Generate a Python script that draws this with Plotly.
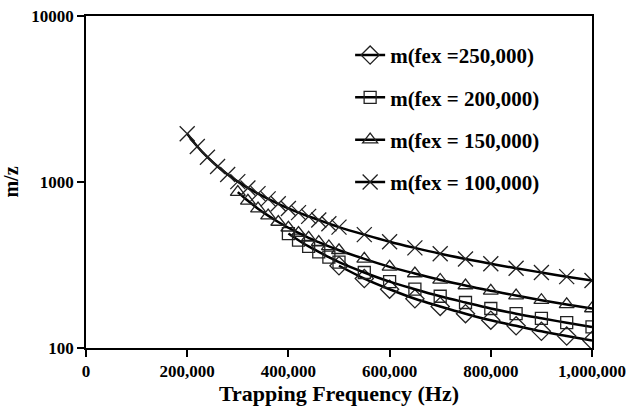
import plotly.graph_objects as go

# Trapping frequency (Hz)
f_x = [200000, 220000, 240000, 260000, 280000, 300000, 320000, 340000, 360000, 380000,
       400000, 420000, 440000, 460000, 480000, 500000, 550000, 600000, 650000, 700000,
       750000, 800000, 850000, 900000, 950000, 1000000]
f_tri = [300000, 320000, 340000, 360000, 380000, 400000, 420000, 440000, 460000, 480000,
         500000, 550000, 600000, 650000, 700000, 750000, 800000, 850000, 900000, 950000, 1000000]
f_sq = [400000, 420000, 440000, 460000, 480000, 500000, 550000, 600000, 650000, 700000,
        750000, 800000, 850000, 900000, 950000, 1000000]
f_dia = [500000, 550000, 600000, 650000, 700000, 750000, 800000, 850000, 900000, 950000, 1000000]

# m/z values
m_100k = [1955, 1637, 1410, 1240, 1110, 1005, 921, 851, 791, 739,
          693, 654, 621, 590, 561, 535, 482, 437, 401, 370,
          344, 322, 302, 285, 269, 255]
m_150k = [869, 770, 691, 627, 574, 530, 493, 461, 434, 409,
          388, 344, 308, 281, 257, 238, 221, 207, 194, 183, 173]
m_200k = [489, 446, 409, 379, 353, 329, 285, 251, 226, 205,
          188, 173, 161, 151, 142, 134]
m_250k = [313, 262, 226, 198, 178, 161, 147, 136, 126, 118, 111]

names = ["m(fex =250,000)", "m(fex = 200,000)", "m(fex = 150,000)", "m(fex = 100,000)"]

x_tickvals = [0, 200000, 400000, 600000, 800000, 1000000]
x_ticktext = ["0", "200,000", "400,000", "600,000", "800,000", "1,000,000"]
y_tickvals = [100, 1000, 10000]
y_ticktext = ["100", "1000", "10000"]

FONT = "Liberation Serif"
series = [
    (f_dia, m_250k, names[0], "diamond-open", 14),
    (f_sq, m_200k, names[1], "square-open", 12),
    (f_tri, m_150k, names[2], "triangle-up-open", 13),
    (f_x, m_100k, names[3], "x-thin-open", 15),
]

fig = go.Figure()
for i, (xs, ys, nm, sym, sz) in enumerate(series):
    fig.add_trace(go.Scatter(
        x=xs, y=ys, name=nm, mode="lines+markers",
        legendgroup=str(i),
        line=dict(color="black", width=2.5, shape="spline"),
        marker=dict(symbol=sym, size=sz, color="#222222",
                    line=dict(width=1.3, color="#222222")),
    ))

fig.update_layout(
    width=628, height=409,
    margin=dict(l=86, r=36, t=16, b=61),
    paper_bgcolor="white", plot_bgcolor="white",
    font=dict(family=FONT, color="black", size=17, weight="bold"),
    showlegend=True,
    legend=dict(x=0.522, y=0.943, xanchor="left", yanchor="top",
                bgcolor="rgba(0,0,0,0)", borderwidth=0,
                font=dict(family=FONT, size=21, color="black", weight="bold"),
                tracegroupgap=12, itemwidth=30),
)
fig.update_xaxes(
    range=[0, 1000000], tickvals=x_tickvals, ticktext=x_ticktext, automargin=False,
    showgrid=False, zeroline=False, showline=True, linecolor="black", linewidth=1.5,
    mirror=True, ticks="outside", ticklen=7, tickcolor="black", tickwidth=1.5,
    tickfont=dict(family=FONT, size=17, weight="bold"),
    title=dict(text="Trapping Frequency (Hz)", font=dict(family=FONT, size=22, weight="bold"), standoff=4),
)
fig.update_yaxes(
    type="log", range=[2, 4], tickvals=y_tickvals, ticktext=y_ticktext, automargin=False,
    showgrid=False, zeroline=False, showline=True, linecolor="black", linewidth=1.5,
    mirror=True, ticks="outside", ticklen=7, tickcolor="black", tickwidth=1.5,
    tickfont=dict(family=FONT, size=17, weight="bold"),
    title=dict(text="m/z", font=dict(family=FONT, size=20, weight="bold"), standoff=10),
)

fig.write_html("out.html")
